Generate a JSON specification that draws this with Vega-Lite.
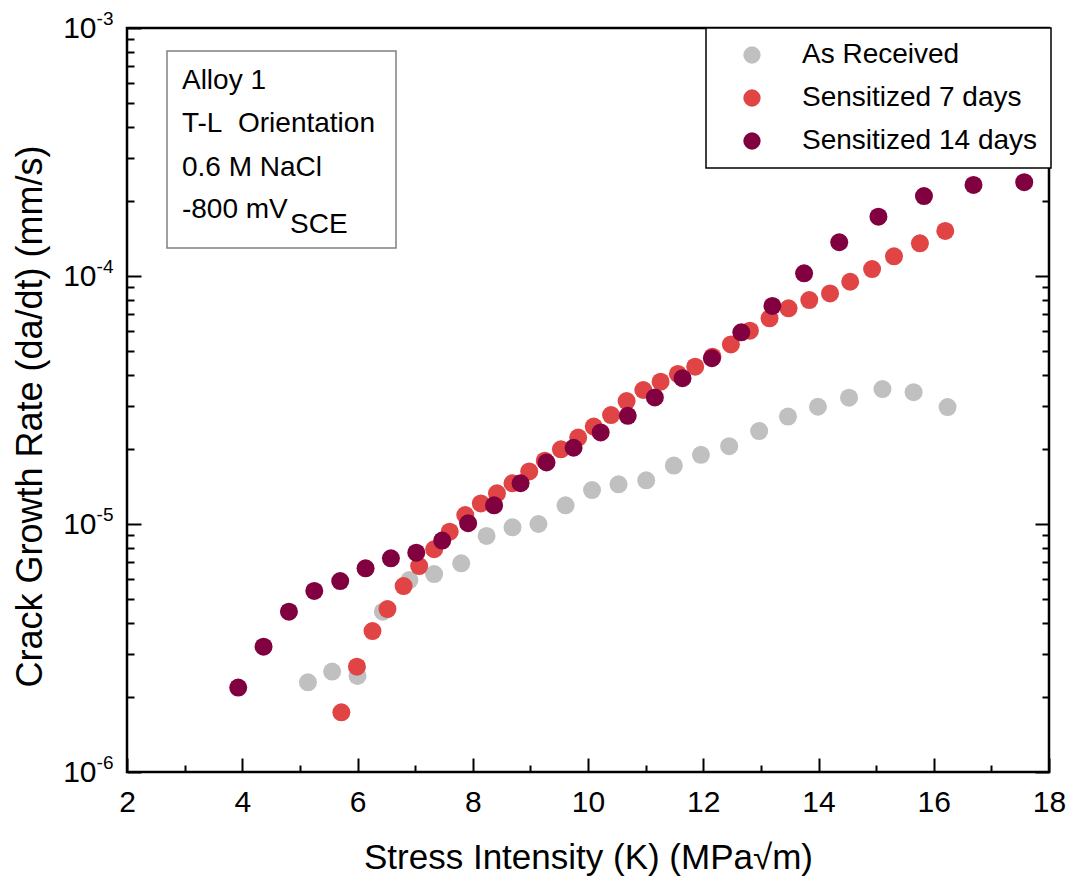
{
  "$schema": "https://vega.github.io/schema/vega-lite/v6.json",
  "width": 922,
  "height": 744,
  "autosize": "none",
  "padding": {"left": 127, "top": 28, "right": 19, "bottom": 106},
  "background": "white",
  "config": {
    "view": {"stroke": "black", "strokeWidth": 2.5},
    "font": "Liberation Sans",
    "axis": {
      "domain": false, "grid": false, "tickColor": "black", "tickWidth": 2,
      "labelFont": "Liberation Sans", "labelFontSize": 30, "labelColor": "black",
      "titleFont": "Liberation Sans", "titleFontSize": 35, "titleFontWeight": "normal", "titleColor": "black"
    },
    "legend": {
      "orient": "none", "legendX": 579, "legendY": 0,
      "fillColor": "white", "strokeColor": "black", "strokeWidth": 1.5,
      "padding": 13, "rowPadding": 15,
      "symbolType": "circle", "symbolSize": 300, "symbolOpacity": 1, "symbolStrokeWidth": 0,
      "symbolOffset": 19, "labelOffset": 36,
      "labelFont": "Liberation Sans", "labelFontSize": 28, "labelColor": "black", "labelLimit": 400
    }
  },
  "datasets": {
    "points": [
      {"K": 5.14, "rate": 2.30e-6, "series": "As Received"},
      {"K": 5.56, "rate": 2.54e-6, "series": "As Received"},
      {"K": 6.00, "rate": 2.44e-6, "series": "As Received"},
      {"K": 6.44, "rate": 4.43e-6, "series": "As Received"},
      {"K": 6.90, "rate": 5.94e-6, "series": "As Received"},
      {"K": 7.33, "rate": 6.28e-6, "series": "As Received"},
      {"K": 7.80, "rate": 6.94e-6, "series": "As Received"},
      {"K": 8.24, "rate": 8.95e-6, "series": "As Received"},
      {"K": 8.69, "rate": 9.70e-6, "series": "As Received"},
      {"K": 9.14, "rate": 1.00e-5, "series": "As Received"},
      {"K": 9.61, "rate": 1.19e-5, "series": "As Received"},
      {"K": 10.07, "rate": 1.37e-5, "series": "As Received"},
      {"K": 10.53, "rate": 1.445e-5, "series": "As Received"},
      {"K": 11.01, "rate": 1.50e-5, "series": "As Received"},
      {"K": 11.49, "rate": 1.72e-5, "series": "As Received"},
      {"K": 11.96, "rate": 1.90e-5, "series": "As Received"},
      {"K": 12.45, "rate": 2.06e-5, "series": "As Received"},
      {"K": 12.97, "rate": 2.37e-5, "series": "As Received"},
      {"K": 13.47, "rate": 2.71e-5, "series": "As Received"},
      {"K": 13.99, "rate": 2.97e-5, "series": "As Received"},
      {"K": 14.53, "rate": 3.23e-5, "series": "As Received"},
      {"K": 15.11, "rate": 3.50e-5, "series": "As Received"},
      {"K": 15.65, "rate": 3.40e-5, "series": "As Received"},
      {"K": 16.24, "rate": 2.96e-5, "series": "As Received"},
      {"K": 5.72, "rate": 1.74e-6, "series": "Sensitized 7 days"},
      {"K": 5.99, "rate": 2.66e-6, "series": "Sensitized 7 days"},
      {"K": 6.26, "rate": 3.70e-6, "series": "Sensitized 7 days"},
      {"K": 6.52, "rate": 4.54e-6, "series": "Sensitized 7 days"},
      {"K": 6.80, "rate": 5.62e-6, "series": "Sensitized 7 days"},
      {"K": 7.07, "rate": 6.77e-6, "series": "Sensitized 7 days"},
      {"K": 7.33, "rate": 7.91e-6, "series": "Sensitized 7 days"},
      {"K": 7.60, "rate": 9.31e-6, "series": "Sensitized 7 days"},
      {"K": 7.87, "rate": 1.087e-5, "series": "Sensitized 7 days"},
      {"K": 8.14, "rate": 1.21e-5, "series": "Sensitized 7 days"},
      {"K": 8.42, "rate": 1.33e-5, "series": "Sensitized 7 days"},
      {"K": 8.69, "rate": 1.46e-5, "series": "Sensitized 7 days"},
      {"K": 8.98, "rate": 1.63e-5, "series": "Sensitized 7 days"},
      {"K": 9.25, "rate": 1.80e-5, "series": "Sensitized 7 days"},
      {"K": 9.53, "rate": 2.00e-5, "series": "Sensitized 7 days"},
      {"K": 9.83, "rate": 2.23e-5, "series": "Sensitized 7 days"},
      {"K": 10.10, "rate": 2.47e-5, "series": "Sensitized 7 days"},
      {"K": 10.40, "rate": 2.75e-5, "series": "Sensitized 7 days"},
      {"K": 10.67, "rate": 3.13e-5, "series": "Sensitized 7 days"},
      {"K": 10.96, "rate": 3.47e-5, "series": "Sensitized 7 days"},
      {"K": 11.26, "rate": 3.75e-5, "series": "Sensitized 7 days"},
      {"K": 11.56, "rate": 4.03e-5, "series": "Sensitized 7 days"},
      {"K": 11.86, "rate": 4.31e-5, "series": "Sensitized 7 days"},
      {"K": 12.16, "rate": 4.73e-5, "series": "Sensitized 7 days"},
      {"K": 12.48, "rate": 5.30e-5, "series": "Sensitized 7 days"},
      {"K": 12.81, "rate": 6.02e-5, "series": "Sensitized 7 days"},
      {"K": 13.15, "rate": 6.75e-5, "series": "Sensitized 7 days"},
      {"K": 13.48, "rate": 7.41e-5, "series": "Sensitized 7 days"},
      {"K": 13.84, "rate": 8.00e-5, "series": "Sensitized 7 days"},
      {"K": 14.20, "rate": 8.51e-5, "series": "Sensitized 7 days"},
      {"K": 14.55, "rate": 9.48e-5, "series": "Sensitized 7 days"},
      {"K": 14.93, "rate": 1.067e-4, "series": "Sensitized 7 days"},
      {"K": 15.31, "rate": 1.20e-4, "series": "Sensitized 7 days"},
      {"K": 15.76, "rate": 1.355e-4, "series": "Sensitized 7 days"},
      {"K": 16.20, "rate": 1.52e-4, "series": "Sensitized 7 days"},
      {"K": 3.93, "rate": 2.19e-6, "series": "Sensitized 14 days"},
      {"K": 4.37, "rate": 3.20e-6, "series": "Sensitized 14 days"},
      {"K": 4.81, "rate": 4.43e-6, "series": "Sensitized 14 days"},
      {"K": 5.25, "rate": 5.37e-6, "series": "Sensitized 14 days"},
      {"K": 5.70, "rate": 5.89e-6, "series": "Sensitized 14 days"},
      {"K": 6.14, "rate": 6.63e-6, "series": "Sensitized 14 days"},
      {"K": 6.58, "rate": 7.27e-6, "series": "Sensitized 14 days"},
      {"K": 7.02, "rate": 7.66e-6, "series": "Sensitized 14 days"},
      {"K": 7.47, "rate": 8.57e-6, "series": "Sensitized 14 days"},
      {"K": 7.92, "rate": 1.007e-5, "series": "Sensitized 14 days"},
      {"K": 8.37, "rate": 1.19e-5, "series": "Sensitized 14 days"},
      {"K": 8.83, "rate": 1.46e-5, "series": "Sensitized 14 days"},
      {"K": 9.28, "rate": 1.77e-5, "series": "Sensitized 14 days"},
      {"K": 9.75, "rate": 2.03e-5, "series": "Sensitized 14 days"},
      {"K": 10.22, "rate": 2.34e-5, "series": "Sensitized 14 days"},
      {"K": 10.69, "rate": 2.73e-5, "series": "Sensitized 14 days"},
      {"K": 11.16, "rate": 3.24e-5, "series": "Sensitized 14 days"},
      {"K": 11.64, "rate": 3.87e-5, "series": "Sensitized 14 days"},
      {"K": 12.15, "rate": 4.66e-5, "series": "Sensitized 14 days"},
      {"K": 12.66, "rate": 5.93e-5, "series": "Sensitized 14 days"},
      {"K": 13.20, "rate": 7.57e-5, "series": "Sensitized 14 days"},
      {"K": 13.75, "rate": 1.025e-4, "series": "Sensitized 14 days"},
      {"K": 14.36, "rate": 1.368e-4, "series": "Sensitized 14 days"},
      {"K": 15.04, "rate": 1.735e-4, "series": "Sensitized 14 days"},
      {"K": 15.83, "rate": 2.10e-4, "series": "Sensitized 14 days"},
      {"K": 16.69, "rate": 2.33e-4, "series": "Sensitized 14 days"},
      {"K": 17.57, "rate": 2.39e-4, "series": "Sensitized 14 days"}
    ],
    "box": [
      {"K1": 2.694, "K2": 6.668, "r1": 8.08e-4, "r2": 1.297e-4}
    ],
    "notes": [
      {"K": 2.954, "rate": 6.11e-4, "label": "Alloy 1"},
      {"K": 2.954, "rate": 4.10e-4, "label": "T-L\u00a0\u00a0Orientation"},
      {"K": 2.954, "rate": 2.725e-4, "label": "0.6 M NaCl"}
    ],
    "potential": [
      {"K": 2.954, "rate": 1.845e-4, "label": "-800 mV"}
    ],
    "sub": [
      {"K": 4.829, "rate": 1.607e-4, "label": "SCE"}
    ]
  },
  "resolve": {"axis": {"x": "independent", "y": "independent"}},
  "layer": [
    {
      "data": {"name": "box"},
      "mark": {"type": "rect", "filled": false, "stroke": "#808080", "strokeWidth": 1.5},
      "encoding": {
        "x": {"field": "K1", "type": "quantitative",
              "scale": {"domain": [2, 18], "nice": false, "zero": false},
              "axis": {"orient": "bottom", "values": [3, 5, 7, 9, 11, 13, 15, 17], "tickSize": -7, "labels": false, "title": null}},
        "x2": {"field": "K2"},
        "y": {"field": "r1", "type": "quantitative",
              "scale": {"type": "log", "domain": [1e-6, 1e-3], "nice": false},
              "axis": {"orient": "left", "values": [2e-6, 3e-6, 4e-6, 5e-6, 6e-6, 7e-6, 8e-6, 9e-6, 2e-5, 3e-5, 4e-5, 5e-5, 6e-5, 7e-5, 8e-5, 9e-5, 2e-4, 3e-4, 4e-4, 5e-4, 6e-4, 7e-4, 8e-4, 9e-4], "tickSize": -7, "labels": false, "title": null}},
        "y2": {"field": "r2"}
      }
    },
    {
      "data": {"name": "notes"},
      "mark": {"type": "text", "align": "left", "baseline": "middle", "fontSize": 28, "font": "Liberation Sans", "color": "black"},
      "encoding": {
        "x": {"field": "K", "type": "quantitative", "scale": {"domain": [2, 18], "nice": false, "zero": false}, "axis": null},
        "y": {"field": "rate", "type": "quantitative",
              "scale": {"type": "log", "domain": [1e-6, 1e-3], "nice": false},
              "axis": {"orient": "right", "values": [1e-6, 1e-5, 1e-4, 1e-3], "tickSize": -14, "labels": false, "title": null}},
        "text": {"field": "label"}
      }
    },
    {
      "data": {"name": "potential"},
      "mark": {"type": "text", "align": "left", "baseline": "middle", "fontSize": 28, "font": "Liberation Sans", "color": "black"},
      "encoding": {
        "x": {"field": "K", "type": "quantitative", "scale": {"domain": [2, 18], "nice": false, "zero": false}, "axis": null},
        "y": {"field": "rate", "type": "quantitative",
              "scale": {"type": "log", "domain": [1e-6, 1e-3], "nice": false},
              "axis": {"orient": "left", "values": [1e-6, 1e-5, 1e-4, 1e-3], "ticks": false, "tickSize": 0, "labelPadding": 14,
                       "labelFontSize": 19, "labelOffset": -10, "labelAlign": "right", "labelBaseline": "middle", "labelFlush": false, "labelOverlap": false,
                       "labelExpr": "datum.value < 5e-6 ? '-6' : datum.value < 5e-5 ? '-5' : datum.value < 5e-4 ? '-4' : '-3'",
                       "title": null}},
        "text": {"field": "label"}
      }
    },
    {
      "data": {"name": "sub"},
      "mark": {"type": "text", "align": "left", "baseline": "middle", "fontSize": 28, "font": "Liberation Sans", "color": "black"},
      "encoding": {
        "x": {"field": "K", "type": "quantitative", "scale": {"domain": [2, 18], "nice": false, "zero": false}, "axis": null},
        "y": {"field": "rate", "type": "quantitative",
              "scale": {"type": "log", "domain": [1e-6, 1e-3], "nice": false},
              "axis": {"orient": "right", "values": [2e-6, 3e-6, 4e-6, 5e-6, 6e-6, 7e-6, 8e-6, 9e-6, 2e-5, 3e-5, 4e-5, 5e-5, 6e-5, 7e-5, 8e-5, 9e-5, 2e-4, 3e-4, 4e-4, 5e-4, 6e-4, 7e-4, 8e-4, 9e-4], "tickSize": -7, "labels": false, "title": null}},
        "text": {"field": "label"}
      }
    },
    {
      "data": {"name": "points"},
      "mark": {"type": "point", "shape": "circle", "filled": true, "size": 324, "opacity": 1},
      "encoding": {
        "x": {"field": "K", "type": "quantitative",
              "scale": {"domain": [2, 18], "nice": false, "zero": false},
              "axis": {"orient": "bottom", "values": [2, 4, 6, 8, 10, 12, 14, 16, 18], "tickSize": -14, "labelPadding": 29, "labelFlush": false, "labelOverlap": false,
                       "title": "Stress Intensity (K) (MPa√m)", "titlePadding": 23}},
        "y": {"field": "rate", "type": "quantitative",
              "scale": {"type": "log", "domain": [1e-6, 1e-3], "nice": false},
              "axis": {"orient": "left", "values": [1e-6, 1e-5, 1e-4, 1e-3], "tickSize": -14, "labelPadding": 45, "labelFlush": false, "labelOverlap": false, "labelBaseline": "middle",
                       "labelExpr": "'10'",
                       "title": "Crack Growth Rate (da/dt) (mm/s)", "titleFontSize": 36, "titleX": -97, "titleY": 388, "titleBaseline": "middle"}},
        "color": {"field": "series", "type": "nominal",
                  "scale": {"domain": ["As Received", "Sensitized 7 days", "Sensitized 14 days"], "range": ["#c0c0c0", "#e04444", "#800040"]},
                  "legend": {"title": null}}
      }
    }
  ]
}
